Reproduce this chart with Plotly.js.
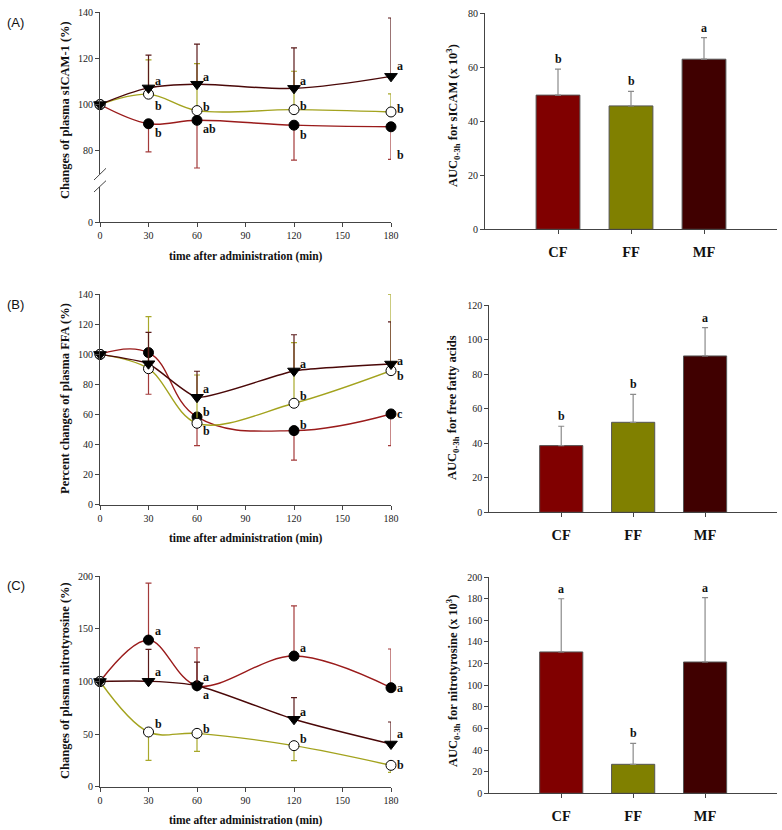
<!DOCTYPE html>
<html><head><meta charset="utf-8">
<script src="https://cdn.plot.ly/plotly-3.0.1.min.js"></script>
<style>html,body{margin:0;padding:0;background:#fff}#chart{width:782px;height:830px}</style>
</head><body><div id="chart"></div>
<script>
// ---------- data ----------
const times = [0, 30, 60, 120, 180];
const groups = ['CF', 'FF', 'MF'];

// (A) plasma sICAM-1, % change
const sicamCF = [100, 91.7, 93.2, 91.1, 90.4];
const sicamCFsd = [0, 12.1, 20.6, 15.1, 14.1];
const sicamFF = [100, 104.5, 97.4, 97.8, 96.8];
const sicamFFsd = [0, 14.8, 20.3, 16.6, 7.8];
const sicamMF = [100, 107.2, 108.8, 107.0, 112.2];
const sicamMFsd = [0, 14.2, 17.3, 17.5, 25.2];
const sicamCFsig = ['', 'b', 'ab', 'b', 'b'];
const sicamFFsig = ['', 'b', 'b', 'b', 'b'];
const sicamMFsig = ['', 'a', 'a', 'a', 'a'];
const sicamAUC = [49.7, 45.7, 63.0];
const sicamAUCsd = [9.6, 5.4, 8.0];
const sicamAUCsig = ['b', 'b', 'a'];

// (B) plasma FFA, % change
const ffaCF = [100, 101.2, 58.4, 49.3, 60.4];
const ffaCFsd = [0, 27.7, 19.1, 19.6, 21.1];
const ffaFF = [100, 90.5, 54.2, 67.5, 89.2];
const ffaFFsd = [0, 34.6, 32.1, 40.3, 50.8];
const ffaMF = [100, 93.8, 71.5, 89.0, 93.6];
const ffaMFsd = [0, 20.9, 17.3, 24.1, 28.0];
const ffaCFsig = ['', '', 'b', 'b', 'c'];
const ffaFFsig = ['', '', 'b', 'b', 'b'];
const ffaMFsig = ['', '', 'a', 'a', 'a'];
const ffaAUC = [38.6, 52.1, 90.5];
const ffaAUCsd = [11.2, 16.2, 16.4];
const ffaAUCsig = ['b', 'b', 'a'];

// (C) plasma nitrotyrosine, % change
const ntyCF = [100, 139.4, 96.0, 124.2, 94.1];
const ntyCFsd = [0, 54.2, 36.1, 47.6, 36.8];
const ntyFF = [100, 52.0, 50.7, 39.0, 20.3];
const ntyFFsd = [0, 26.9, 17.1, 14.3, 6.6];
const ntyMF = [100, 100.2, 96.0, 64.1, 40.6];
const ntyMFsd = [0, 30.4, 22.5, 20.5, 20.9];
const ntyCFsig = ['', 'a', 'a', 'a', 'a'];
const ntyFFsig = ['', 'b', 'b', 'b', 'b'];
const ntyMFsig = ['', 'a', 'a', 'a', 'a'];
const ntyAUC = [130.7, 26.8, 121.4];
const ntyAUCsd = [49.2, 19.4, 59.5];
const ntyAUCsig = ['a', 'b', 'a'];

// ---------- styles ----------
const W = 782, H = 830;
const SERIF = 'Liberation Serif, Times New Roman, serif';
const SANS = 'Liberation Sans, Arial, sans-serif';
const LINE = {CF: '#9a1b1b', FF: '#a3a31e', MF: '#4a0808'};
const ERR = {CF: '#a33a3a', FF: '#a8a82a', MF: '#5a1a1a'};
const BAR = ['#800000', '#808000', '#400000'];
// label pixel offsets (up = positive)
const offA = {CF: [0, -9, -9, -10, -28], FF: [0, -12, 4, 4, 3], MF: [0, 7, 7, 7, 10]};
const offB = {CF: [0, 0, 5, 6, 0], FF: [0, 0, -8, 7, -5], MF: [0, 0, 8, 7, 3]};
const offC = {CF: [0, 9, -9, 8, 0], FF: [0, 8, 4, 7, 0], MF: [0, 9, 9, 7, 10]};

const px = v => v / W;
const py = v => 1 - v / H;

function lineTrace(y, key, xa, ya, sm) {
  return {type: 'scatter', mode: 'lines', x: times, y: y, xaxis: xa, yaxis: ya,
    line: {color: LINE[key], width: 1.4, shape: 'spline', smoothing: sm},
    cliponaxis: false, hoverinfo: 'skip', showlegend: false};
}
function markerTrace(y, sd, dir, key, xa, ya) {
  const zero = sd.map(() => 0);
  return {type: 'scatter', mode: 'markers', x: times, y: y, xaxis: xa, yaxis: ya, cliponaxis: false,
    marker: {symbol: key === 'MF' ? 'triangle-down' : 'circle', size: key === 'MF' ? 11 : 10,
      color: key === 'FF' ? '#ffffff' : '#000000', line: {color: '#000000', width: 1}},
    error_y: {type: 'data', symmetric: false, array: dir === 'up' ? sd : zero,
      arrayminus: dir === 'up' ? zero : sd, color: ERR[key], thickness: 1.2, width: 3},
    hoverinfo: 'skip', showlegend: false};
}
function barTrace(vals, sd, xa, ya) {
  return {type: 'bar', x: groups, y: vals, xaxis: xa, yaxis: ya, width: 0.6,
    marker: {color: BAR, line: {color: '#555555', width: 1}},
    error_y: {type: 'data', symmetric: false, array: sd, arrayminus: sd.map(() => 0),
      color: '#8a8a8a', thickness: 1.2, width: 3},
    hoverinfo: 'skip', showlegend: false};
}

const panels = [
  {xa: 'x', ya: 'y', CF: sicamCF, FF: sicamFF, MF: sicamMF, CFsd: sicamCFsd, FFsd: sicamFFsd, MFsd: sicamMFsd,
   dir: {CF: 'down', FF: 'up', MF: 'up'}, sig: {CF: sicamCFsig, FF: sicamFFsig, MF: sicamMFsig}, off: offA, sm: {CF: 1, FF: 1, MF: 1}},
  {xa: 'x4', ya: 'y4', CF: ffaCF, FF: ffaFF, MF: ffaMF, CFsd: ffaCFsd, FFsd: ffaFFsd, MFsd: ffaMFsd,
   dir: {CF: 'down', FF: 'up', MF: 'up'}, sig: {CF: ffaCFsig, FF: ffaFFsig, MF: ffaMFsig}, off: offB, sm: {CF: 1.2, FF: 1, MF: 0.5}},
  {xa: 'x6', ya: 'y6', CF: ntyCF, FF: ntyFF, MF: ntyMF, CFsd: ntyCFsd, FFsd: ntyFFsd, MFsd: ntyMFsd,
   dir: {CF: 'up', FF: 'down', MF: 'up'}, sig: {CF: ntyCFsig, FF: ntyFFsig, MF: ntyMFsig}, off: offC, sm: {CF: 1, FF: 1, MF: 0.8}}
];
const bars = [
  {xa: 'x3', ya: 'y3', v: sicamAUC, sd: sicamAUCsd, sig: sicamAUCsig},
  {xa: 'x5', ya: 'y5', v: ffaAUC, sd: ffaAUCsd, sig: ffaAUCsig},
  {xa: 'x7', ya: 'y7', v: ntyAUC, sd: ntyAUCsd, sig: ntyAUCsig}
];

const traces = [];
const annotations = [];
const letterFont = {family: SERIF, size: 12, color: '#111', weight: 'bold'};
panels.forEach(p => {
  ['CF', 'FF', 'MF'].forEach(k => traces.push(lineTrace(p[k], k, p.xa, p.ya, p.sm[k])));
  ['CF', 'FF', 'MF'].forEach(k => traces.push(markerTrace(p[k], p[k + 'sd'], p.dir[k], k, p.xa, p.ya)));
  ['CF', 'FF', 'MF'].forEach(k => {
    p.sig[k].forEach((s, i) => {
      if (!s) return;
      annotations.push({xref: p.xa, yref: p.ya, x: times[i], y: p[k][i], text: s, showarrow: false,
        xanchor: 'left', yanchor: 'middle', xshift: 4, yshift: p.off[k][i], font: letterFont});
    });
  });
});
// holder trace so the lower (broken) segment of panel A's y axis is drawn
traces.push({type: 'scatter', mode: 'markers', x: [times[0]], y: [null], xaxis: 'x', yaxis: 'y2',
  hoverinfo: 'skip', showlegend: false});
bars.forEach(b => {
  traces.push(barTrace(b.v, b.sd, b.xa, b.ya));
  b.sig.forEach((s, i) => annotations.push({xref: b.xa, yref: b.ya, x: groups[i], y: b.v[i] + b.sd[i], text: s,
    showarrow: false, xanchor: 'center', yanchor: 'bottom', yshift: 1, font: letterFont}));
});

// titles & panel labels
const titleFont = {family: SERIF, size: 12.5, color: '#111', weight: 'bold'};
const xTitleFont = {family: SERIF, size: 11.5, color: '#111', weight: 'bold'};
function ann(x, y, text, font, angle) {
  annotations.push({xref: 'paper', yref: 'paper', x: px(x), y: py(y), text: text, showarrow: false,
    xanchor: 'center', yanchor: 'middle', textangle: angle || 0, font: font});
}
ann(65, 110, 'Changes of plasma sICAM-1 (%)', titleFont, -90);
ann(65, 399, 'Percent changes of plasma FFA (%)', titleFont, -90);
ann(65, 681, 'Changes of plasma nitrotyrosine (%)', titleFont, -90);
ann(245.5, 256.5, 'time after administration (min)', xTitleFont);
ann(245.5, 538, 'time after administration (min)', xTitleFont);
ann(245.5, 820, 'time after administration (min)', xTitleFont);
ann(453, 116, 'AUC<sub>0-3h</sub> for sICAM (x 10<sup>3</sup>)', titleFont, -90);
ann(453, 408, 'AUC<sub>0-3h</sub> for free fatty acids', titleFont, -90);
ann(453, 681, 'AUC<sub>0-3h</sub> for nitrotyrosine (x 10<sup>3</sup>)', titleFont, -90);
const panelFont = {family: SANS, size: 13, color: '#111'};
ann(15.5, 22, '(A)', panelFont);
ann(15.5, 304, '(B)', panelFont);
ann(15.5, 585, '(C)', panelFont);

const ax = {showline: true, linecolor: '#444', linewidth: 1, ticks: 'outside', ticklen: 4, tickwidth: 1,
  tickcolor: '#444', showgrid: false, zeroline: false, automargin: false, fixedrange: true,
  tickfont: {family: SERIF, size: 10, color: '#222'}};
const lineX = Object.assign({}, ax, {domain: [px(100), px(391)], range: [0, 180], dtick: 30, tick0: 0});
const barX = Object.assign({}, ax, {type: 'category', range: [-1, 3], ticklabelstandoff: 5,
  tickfont: {family: SERIF, size: 14.5, color: '#111', weight: 'bold'}});

const layout = {
  width: W, height: H, margin: {l: 0, r: 0, t: 0, b: 0},
  paper_bgcolor: '#ffffff', plot_bgcolor: 'rgba(0,0,0,0)', showlegend: false,
  xaxis: Object.assign({}, lineX, {anchor: 'y2'}),
  yaxis: Object.assign({}, ax, {domain: [py(174), py(12)], range: [70, 140], dtick: 20, tick0: 0, anchor: 'x'}),
  yaxis2: Object.assign({}, ax, {domain: [py(222), py(186.5)], range: [0, 15.3], tickvals: [0], anchor: 'x'}),
  xaxis3: Object.assign({}, barX, {domain: [px(485), px(777)], anchor: 'y3'}),
  yaxis3: Object.assign({}, ax, {domain: [py(229.3), py(13.3)], range: [0, 80], dtick: 20, anchor: 'x3'}),
  xaxis4: Object.assign({}, lineX, {anchor: 'y4'}),
  yaxis4: Object.assign({}, ax, {domain: [py(504.7), py(294.3)], range: [0, 140], dtick: 20, anchor: 'x4'}),
  xaxis5: Object.assign({}, barX, {domain: [px(489.3), px(777)], anchor: 'y5'}),
  yaxis5: Object.assign({}, ax, {domain: [py(512.3), py(305)], range: [0, 120], dtick: 20, anchor: 'x5'}),
  xaxis6: Object.assign({}, lineX, {anchor: 'y6'}),
  yaxis6: Object.assign({}, ax, {domain: [py(786.7), py(576.3)], range: [0, 200], dtick: 50, anchor: 'x6'}),
  xaxis7: Object.assign({}, barX, {domain: [px(489.3), px(777)], anchor: 'y7'}),
  yaxis7: Object.assign({}, ax, {domain: [py(793.3), py(577)], range: [0, 200], dtick: 20, anchor: 'x7'}),
  annotations: annotations,
  shapes: [
    {type: 'line', xref: 'paper', yref: 'paper', x0: px(94), y0: py(180), x1: px(106), y1: py(168.3), line: {color: '#444', width: 1}},
    {type: 'line', xref: 'paper', yref: 'paper', x0: px(94), y0: py(192), x1: px(106), y1: py(180.7), line: {color: '#444', width: 1}}
  ]
};

Plotly.newPlot('chart', traces, layout, {displayModeBar: false, staticPlot: true});
</script>
</body></html>
